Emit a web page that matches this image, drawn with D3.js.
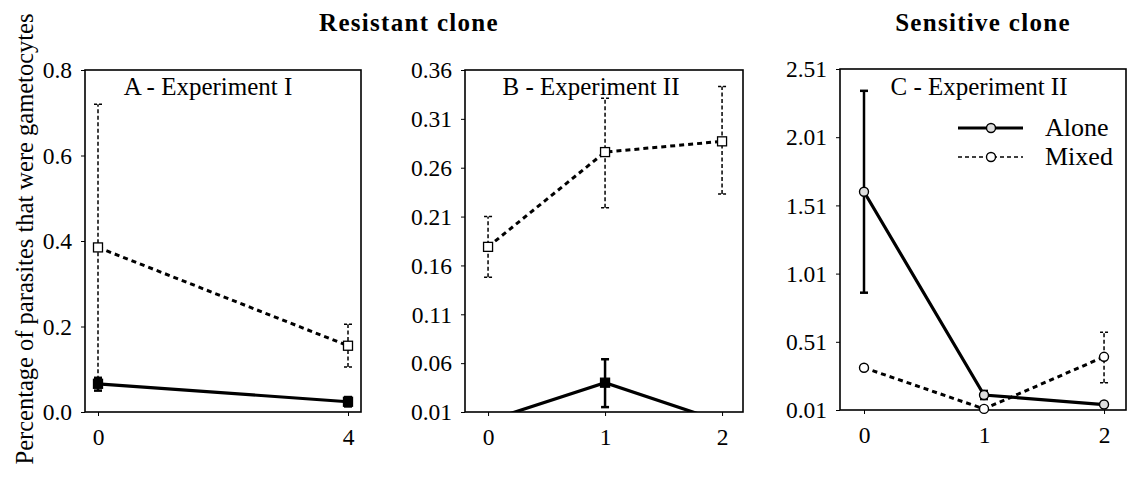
<!DOCTYPE html>
<html>
<head>
<meta charset="utf-8">
<script src="https://cdn.jsdelivr.net/npm/d3@7"></script>
<style>
  body { margin: 0; background: #fff; }
  svg { display: block; }
  text { font-family: "Liberation Serif", "Times New Roman", serif; fill: #000; }
</style>
</head>
<body>
<svg id="chart" width="1127" height="491"></svg>
<script>
// ---- Data: percentage of parasites that were gametocytes ----
// Panel A - Experiment I (resistant clone)
const daysA = [0, 4];
const aloneA = [0.066, 0.024];
const aloneALow = [0.05, 0.013];
const aloneAHigh = [0.08, 0.035];
const mixedA = [0.385, 0.155];
const mixedALow = [0.06, 0.105];
const mixedAHigh = [0.72, 0.205];
const ticksA = [0, 0.2, 0.4, 0.6, 0.8];
const xTicksA = [0, 4];

// Panel B - Experiment II (resistant clone)
const daysB = [0, 1, 2];
const aloneB = [0.001, 0.04, 0.0];
const aloneBLow = [0.001, 0.015, 0.0];
const aloneBHigh = [0.001, 0.064, 0.0];
const mixedB = [0.179, 0.276, 0.287];
const mixedBLow = [0.148, 0.219, 0.233];
const mixedBHigh = [0.21, 0.331, 0.343];
const ticksB = [0.01, 0.06, 0.11, 0.16, 0.21, 0.26, 0.31, 0.36];
const xTicksB = [0, 1, 2];

// Panel C - Experiment II (sensitive clone)
const daysC = [0, 1, 2];
const aloneC = [1.61, 0.12, 0.05];
const aloneCLow = [0.87, 0.09, 0.04];
const aloneCHigh = [2.35, 0.15, 0.06];
const mixedC = [0.32, 0.018, 0.40];
const mixedCLow = [0.32, 0.018, 0.21];
const mixedCHigh = [0.32, 0.018, 0.58];
const ticksC = [0.01, 0.51, 1.01, 1.51, 2.01, 2.51];
const xTicksC = [0, 1, 2];

const seriesNames = ["Alone", "Mixed"];

const svg = d3.select("#chart");

function panel(cfg) {
  const g = svg.append("g");
  const x = d3.scaleLinear().domain(cfg.xDomain).range([cfg.left, cfg.right]);
  const y = d3.scaleLinear().domain(cfg.yDomain).range([cfg.bottom, cfg.top]);

  const clipId = "clip" + cfg.id;
  svg.append("defs").append("clipPath").attr("id", clipId)
    .append("rect")
    .attr("x", cfg.left).attr("y", cfg.top - 2)
    .attr("width", cfg.right - cfg.left + 2)
    .attr("height", cfg.bottom - cfg.top + 2 + (cfg.extraBottom || 0));

  // y axis
  const yAxis = d3.axisLeft(y).tickValues(cfg.yTicks).tickSize(4).tickPadding(9)
    .tickFormat(cfg.yFormat);
  const ya = g.append("g").attr("transform", `translate(${cfg.left},0)`).call(yAxis);
  ya.select(".domain").remove();
  ya.selectAll("line").attr("stroke", "#000").attr("stroke-width", 1);
  ya.selectAll("text").style("font-size", "23.5px").attr("dy", "0.33em");

  // x axis
  const xAxis = d3.axisBottom(x).tickValues(cfg.xTicks).tickSize(4).tickPadding(12)
    .tickFormat(d3.format("d"));
  const xa = g.append("g").attr("transform", `translate(0,${cfg.bottom})`).call(xAxis);
  xa.select(".domain").remove();
  xa.selectAll("line").attr("stroke", "#000").attr("stroke-width", 1);
  xa.selectAll("text").style("font-size", "23.5px");

  // frame
  g.append("rect")
    .attr("x", cfg.left).attr("y", cfg.top)
    .attr("width", cfg.right - cfg.left).attr("height", cfg.bottom - cfg.top)
    .attr("fill", "none").attr("stroke", "#000").attr("stroke-width", 1.6);

  g.append("text")
    .attr("x", cfg.labelX).attr("y", 95)
    .attr("text-anchor", "middle").style("font-size", "25px")
    .text(cfg.label);

  const plot = g.append("g").attr("clip-path", `url(#${clipId})`);
  const line = d3.line().x(d => x(d[0])).y(d => y(d[1]));

  function errorBars(xs, lo, hi, dashed, width) {
    xs.forEach((xv, i) => {
      if (hi[i] - lo[i] <= 0) return;
      const eg = plot.append("g").attr("stroke", "#000").attr("stroke-width", width);
      eg.append("line").attr("x1", x(xv)).attr("x2", x(xv))
        .attr("y1", y(lo[i])).attr("y2", y(hi[i]))
        .attr("stroke-dasharray", dashed ? "4,2.5" : null);
      [lo[i], hi[i]].forEach(v => {
        eg.append("line").attr("x1", x(xv) - 4).attr("x2", x(xv) + 4)
          .attr("y1", y(v)).attr("y2", y(v))
          .attr("stroke-dasharray", dashed ? "3,2" : null);
      });
    });
  }

  // error bars
  errorBars(cfg.days, cfg.mixedLow, cfg.mixedHigh, true, 1.5);
  errorBars(cfg.days, cfg.aloneLow, cfg.aloneHigh, false, 2.5);

  // lines
  plot.append("path").datum(cfg.days.map((d, i) => [d, cfg.mixed[i]]))
    .attr("d", line).attr("fill", "none").attr("stroke", "#000")
    .attr("stroke-width", 3).attr("stroke-dasharray", "5,4");
  plot.append("path").datum(cfg.days.map((d, i) => [d, cfg.alone[i]]))
    .attr("d", line).attr("fill", "none").attr("stroke", "#000")
    .attr("stroke-width", 3.2);

  // markers
  const markerLayer = cfg.clipMarkers ? plot : g;
  function markers(vals, filled) {
    cfg.days.forEach((d, i) => {
      if (cfg.shape === "square") {
        markerLayer.append("rect")
          .attr("x", x(d) - 4.5).attr("y", y(vals[i]) - 4.5)
          .attr("width", 9).attr("height", 9)
          .attr("fill", filled ? "#000" : "#fff")
          .attr("stroke", "#000").attr("stroke-width", 1.3);
      } else {
        markerLayer.append("circle")
          .attr("cx", x(d)).attr("cy", y(vals[i])).attr("r", 4.5)
          .attr("fill", filled ? "#ddd" : "#fff")
          .attr("stroke", "#000").attr("stroke-width", 1.4);
      }
    });
  }
  markers(cfg.mixed, false);
  markers(cfg.alone, true);
  return { g, x, y };
}

panel({
  id: "A", left: 85, right: 361, top: 70, bottom: 412,
  xDomain: [-0.208, 4.208], yDomain: [0, 0.8],
  yTicks: ticksA, xTicks: xTicksA, yFormat: d3.format(".1f"),
  days: daysA, alone: aloneA, aloneLow: aloneALow, aloneHigh: aloneAHigh,
  mixed: mixedA, mixedLow: mixedALow, mixedHigh: mixedAHigh,
  label: "A - Experiment I", labelX: 208, shape: "square", clipMarkers: true
});

panel({
  id: "B", left: 465, right: 743, top: 70, bottom: 412,
  xDomain: [-0.197, 2.179], yDomain: [0.01, 0.36],
  yTicks: ticksB, xTicks: xTicksB, yFormat: d3.format(".2f"),
  days: daysB, alone: aloneB, aloneLow: aloneBLow, aloneHigh: aloneBHigh,
  mixed: mixedB, mixedLow: mixedBLow, mixedHigh: mixedBHigh,
  label: "B - Experiment II", labelX: 591, shape: "square", clipMarkers: true
});

panel({
  id: "C", left: 840, right: 1126, top: 69, bottom: 410,
  xDomain: [-0.2, 2.183], yDomain: [0.01, 2.51],
  yTicks: ticksC, xTicks: xTicksC, yFormat: d3.format(".2f"),
  days: daysC, alone: aloneC, aloneLow: aloneCLow, aloneHigh: aloneCHigh,
  mixed: mixedC, mixedLow: mixedCLow, mixedHigh: mixedCHigh,
  label: "C - Experiment II", labelX: 979, shape: "circle", clipMarkers: false,
  extraBottom: 6
});

// legend inside panel C
const legend = svg.append("g");
seriesNames.forEach((name, i) => {
  const ly = 128 + i * 29;
  legend.append("line").attr("x1", 958).attr("x2", 1023).attr("y1", ly).attr("y2", ly)
    .attr("stroke", "#000").attr("stroke-width", i === 0 ? 3 : 1.4)
    .attr("stroke-dasharray", i === 0 ? null : "4,3");
  legend.append("circle").attr("cx", 991).attr("cy", ly).attr("r", 4.5)
    .attr("fill", i === 0 ? "#ddd" : "#fff").attr("stroke", "#000").attr("stroke-width", 1.4);
  legend.append("text").attr("x", 1045).attr("y", ly + 8).style("font-size", "26px").text(name);
});

// group titles
svg.append("text").attr("x", 409).attr("y", 31).attr("text-anchor", "middle")
  .style("font-size", "25px").style("font-weight", "bold").style("letter-spacing", "1.3px")
  .text("Resistant clone");
svg.append("text").attr("x", 983).attr("y", 31).attr("text-anchor", "middle")
  .style("font-size", "25px").style("font-weight", "bold").style("letter-spacing", "1.3px")
  .text("Sensitive clone");

// y-axis title
svg.append("text")
  .attr("transform", "translate(33,239) rotate(-90)")
  .attr("text-anchor", "middle").style("font-size", "24.5px")
  .text("Percentage of parasites that were gametocytes");
</script>
</body>
</html>
